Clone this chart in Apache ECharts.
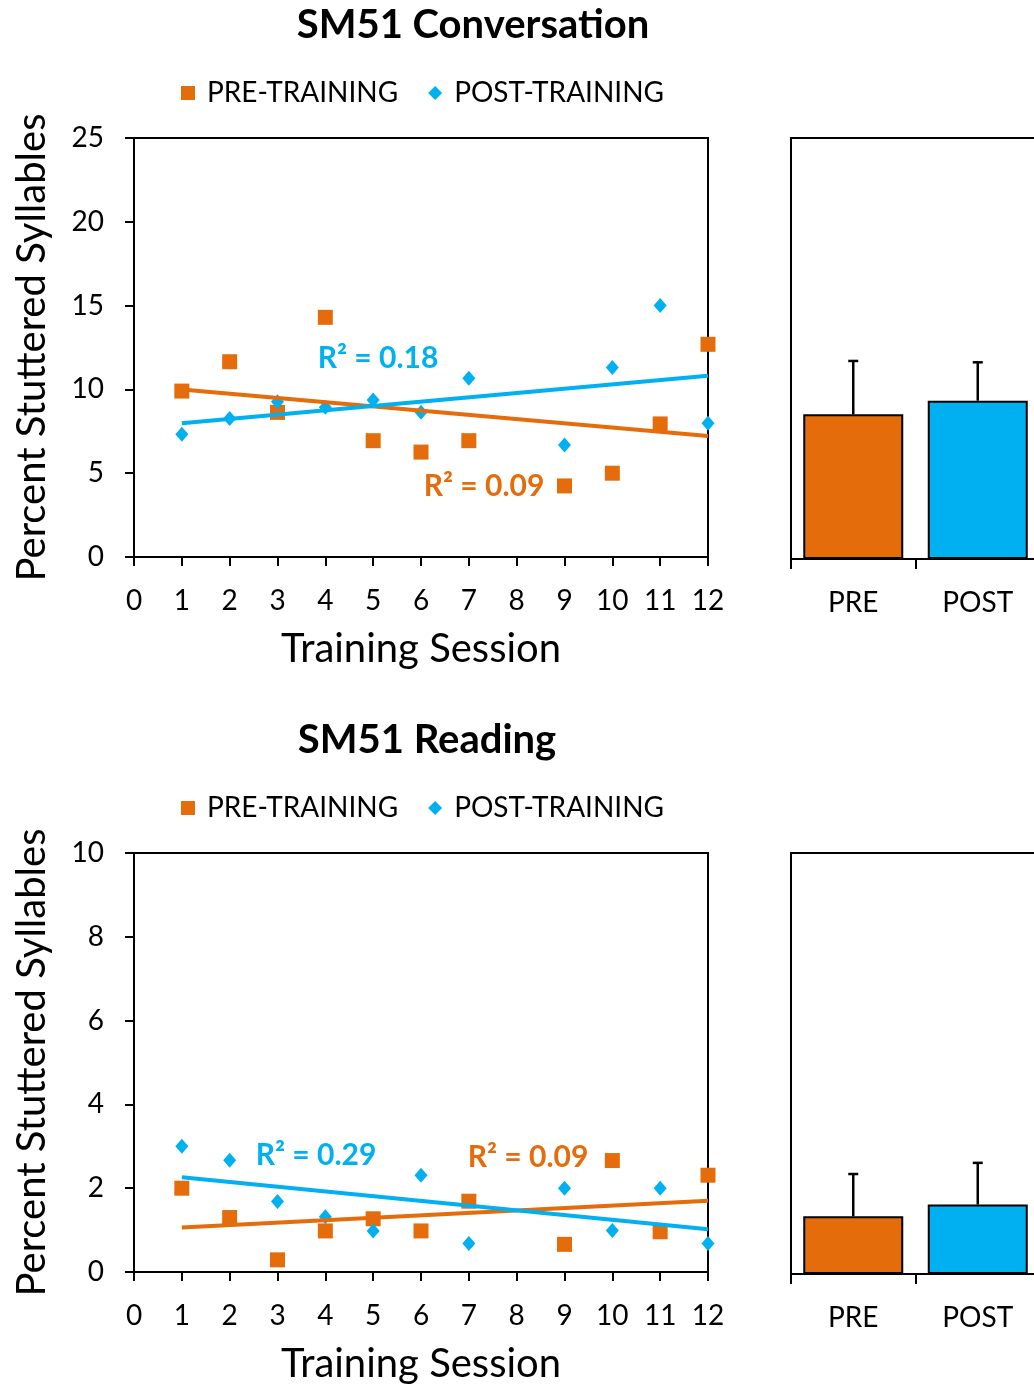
<!DOCTYPE html>
<html><head><meta charset="utf-8">
<script src="https://cdn.jsdelivr.net/npm/echarts@6/dist/echarts.min.js"></script>
<style>html,body{margin:0;padding:0;background:#fff;overflow:hidden}#c{width:1046px;height:1386px}</style>
</head><body><div id="c"></div>
<script>
const sessions = [1,2,3,4,5,6,7,9,10,11,12];
const convPre  = [9.9,11.65,8.63,14.3,6.94,6.26,6.94,4.24,5.0,7.94,12.69];
const convPost = [7.32,8.27,9.27,8.93,9.37,8.63,10.66,6.68,11.3,15.0,7.98];
const readPre  = [2.0,1.3,0.29,0.98,1.27,0.98,1.69,0.66,2.66,0.96,2.31];
const readPost = [3.0,2.67,1.68,1.32,0.98,2.31,0.68,2.0,0.99,2.0,0.68];
const trendX = [1,12];
const convPreTrend  = [10.0,7.22];
const convPostTrend = [7.98,10.82];
const readPreTrend  = [1.06,1.70];
const readPostTrend = [2.26,1.02];
const barCats = ['PRE','POST'];
const convMeans = [8.59,9.40];
const convErrTop = [11.76,11.68];
const readMeans = [1.37,1.65];
const readErrTop = [2.375,2.64];
const convTicks = {min:0,max:25,interval:5};
const readTicks = {min:0,max:10,interval:2};

const ORANGE = '#E46C0A', BLUE = '#00B0F0';
const FONT = 'Lato';
const chart = echarts.init(document.getElementById('c'), null, {renderer:'canvas'});
const pair = (xs, ys) => xs.map((x,i)=>[x, ys[i]]);

function scatterX(gi){
  return {type:'value', gridIndex:gi, min:0, max:12, interval:1,
    axisLine:{show:true, onZero:false, lineStyle:{color:'#000', width:2}},
    axisTick:{show:true, inside:false, length:9, lineStyle:{color:'#000', width:2}},
    axisLabel:{color:'#000', fontSize:28, fontFamily:FONT, margin:30},
    splitLine:{show:false},
    name:'Training Session', nameLocation:'middle', nameGap:72,
    nameTextStyle:{color:'#000', fontSize:40, fontFamily:FONT}};
}
function scatterY(gi, t){
  return {type:'value', gridIndex:gi, min:t.min, max:t.max, interval:t.interval,
    axisLine:{show:true, lineStyle:{color:'#000', width:2}},
    axisTick:{show:true, length:9, lineStyle:{color:'#000', width:2}},
    axisLabel:{color:'#000', fontSize:28, fontFamily:FONT, margin:30},
    splitLine:{show:false},
    name:'Percent Stuttered Syllables', nameLocation:'middle', nameGap:82, nameRotate:90,
    nameTextStyle:{color:'#000', fontSize:40, fontFamily:FONT}};
}
function barX(gi){
  return {type:'category', gridIndex:gi, data:barCats,
    axisLine:{show:true, lineStyle:{color:'#000', width:2}},
    axisTick:{show:true, alignWithLabel:false, length:10, lineStyle:{color:'#000', width:2}},
    axisLabel:{color:'#000', fontSize:28, fontFamily:FONT, margin:30}};
}
function barY(gi, t){
  return {type:'value', gridIndex:gi, min:t.min, max:t.max, interval:t.interval,
    axisLine:{show:true, lineStyle:{color:'#000', width:2}},
    axisTick:{show:false}, axisLabel:{show:false}, splitLine:{show:false}};
}
function errSeries(ai, means, tops){
  return {type:'custom', xAxisIndex:ai, yAxisIndex:ai, z:1,
    data: means.map((m,i)=>[i, m, tops[i]]),
    renderItem:(params, api)=>{
      const b = api.coord([api.value(0), api.value(1)]);
      const t = api.coord([api.value(0), api.value(2)]);
      const st = {stroke:'#000', lineWidth:2.5};
      return {type:'group', children:[
        {type:'line', shape:{x1:b[0], y1:b[1], x2:t[0], y2:t[1]}, style:st},
        {type:'line', shape:{x1:t[0]-5, y1:t[1], x2:t[0]+5, y2:t[1]}, style:st}
      ]};
    }};
}
function barSeries(ai, means){
  return {type:'bar', xAxisIndex:ai, yAxisIndex:ai, barWidth:100, z:2,
    data: means.map((m,i)=>({value:m, itemStyle:{color: i===0?ORANGE:BLUE, borderColor:'#000', borderWidth:2}}))};
}
function scat(name, ai, ys, color, sym){
  return {name, type:'scatter', xAxisIndex:ai, yAxisIndex:ai, data:pair(sessions, ys),
    symbol:sym, symbolSize: sym==='rect'?15:[13,15], itemStyle:{color, opacity:1}, z:3};
}
function trend(ai, ys, color){
  return {type:'line', xAxisIndex:ai, yAxisIndex:ai, data:pair(trendX, ys), showSymbol:false,
    lineStyle:{color, width:4}, z:4, silent:true};
}
function legend(top){
  return {top, left:176, itemWidth:14, itemHeight:14, itemGap:30, selectedMode:false,
    textStyle:{color:'#000', fontSize:28, fontFamily:FONT, padding:[0,0,0,7]},
    data:[{name:'PRE-TRAINING', icon:'rect'}, {name:'POST-TRAINING', icon:'diamond'}]};
}
function txt(x, y, text, color, size, weight){
  return {type:'text', x, y, style:{text, fill:color, font:`${weight||'bold'} ${size}px ${FONT}`, textAlign:'center', textVerticalAlign:'middle'}};
}

chart.setOption({
  animation:false,
  grid:[
    {left:134, top:138, width:574, height:419, show:true, borderColor:'#000', borderWidth:2, backgroundColor:'transparent'},
    {left:791, width:249, top:138, height:421, show:true, borderColor:'#000', borderWidth:2, backgroundColor:'transparent'},
    {left:134, top:853, width:574, height:419, show:true, borderColor:'#000', borderWidth:2, backgroundColor:'transparent'},
    {left:791, width:249, top:853, height:421, show:true, borderColor:'#000', borderWidth:2, backgroundColor:'transparent'}
  ],
  xAxis:[scatterX(0), barX(1), scatterX(2), barX(3)],
  yAxis:[scatterY(0, convTicks), barY(1, convTicks), scatterY(2, readTicks), barY(3, readTicks)],
  legend:[legend(74), legend(789)],
  series:[
    scat('PRE-TRAINING', 0, convPre, ORANGE, 'rect'),
    scat('POST-TRAINING', 0, convPost, BLUE, 'diamond'),
    trend(0, convPreTrend, ORANGE),
    trend(0, convPostTrend, BLUE),
    barSeries(1, convMeans),
    errSeries(1, convMeans, convErrTop),
    scat('PRE-TRAINING', 2, readPre, ORANGE, 'rect'),
    scat('POST-TRAINING', 2, readPost, BLUE, 'diamond'),
    trend(2, readPreTrend, ORANGE),
    trend(2, readPostTrend, BLUE),
    barSeries(3, readMeans),
    errSeries(3, readMeans, readErrTop)
  ],
  graphic:[
    txt(473, 25, 'SM51 Conversation', '#000', 40),
    txt(427, 740, 'SM51 Reading', '#000', 40),
    txt(378, 358, 'R² = 0.18', BLUE, 30),
    txt(484, 486, 'R² = 0.09', ORANGE, 30),
    txt(316, 1155, 'R² = 0.29', BLUE, 30),
    txt(528, 1157, 'R² = 0.09', ORANGE, 30)
  ]
});
</script></body></html>
